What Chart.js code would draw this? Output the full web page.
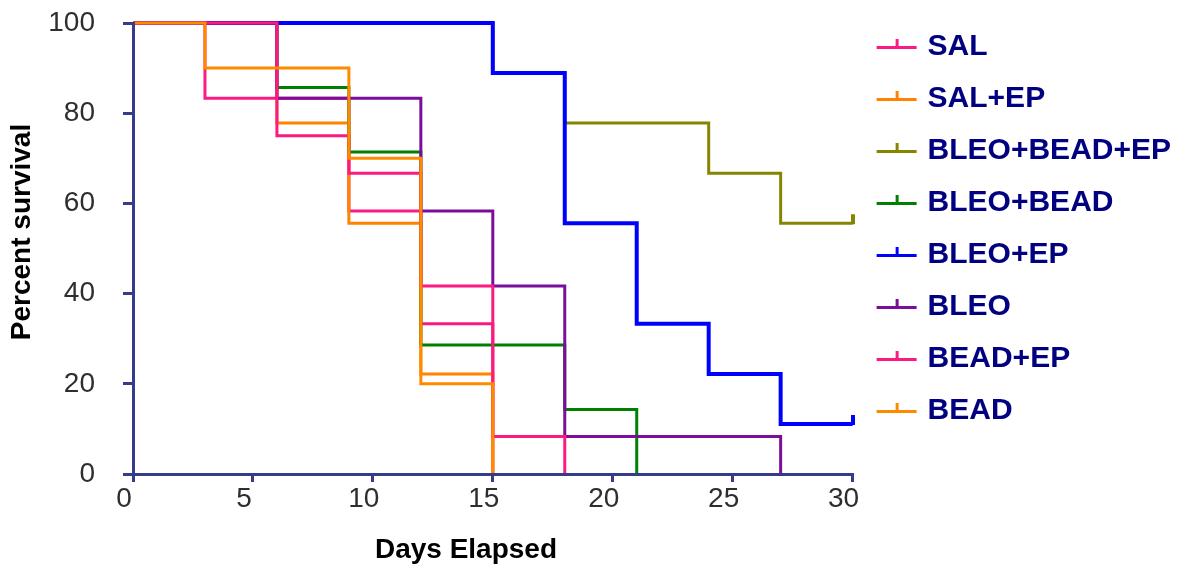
<!DOCTYPE html>
<html>
<head>
<meta charset="utf-8">
<title>Percent survival</title>
<script src="https://cdn.jsdelivr.net/npm/chart.js@4.4.1/dist/chart.umd.min.js"></script>
<style>
  html, body { margin: 0; padding: 0; background: #ffffff; }
  #wrap { width: 1184px; height: 567px; }
</style>
</head>
<body>
<div id="wrap"><canvas id="km" width="1184" height="567"></canvas></div>
<script>
// Observation days (deaths are recorded on a 3-day schedule)
const days = [0, 3, 6, 9, 12, 15, 18, 21, 24, 27, 30];

// Kaplan-Meier survival (%) per group, one value per observation day;
// a shorter list means the curve ends at its last death.
const survSAL        = [100, 83.3, 83.3, 58.3, 33.3, 0];
const survSALEP      = [100, 100, 77.8, 55.6, 22.2, 0];
const survBLEOBEADEP = [100, 100, 100, 100, 100, 88.9, 77.8, 77.8, 66.7, 55.6, 55.6];
const survBLEOBEAD   = [100, 100, 85.7, 71.4, 28.6, 28.6, 14.3, 0];
const survBLEOEP     = [100, 100, 100, 100, 100, 88.9, 55.6, 33.3, 22.2, 11.1, 11.1];
const survBLEO       = [100, 100, 83.3, 83.3, 58.3, 41.7, 8.3, 8.3, 8.3, 0];
const survBEADEP     = [100, 100, 75, 66.7, 41.7, 8.3, 0];
const survBEAD       = [100, 90, 90, 70, 20, 0];

const groupNames  = ['SAL', 'SAL+EP', 'BLEO+BEAD+EP', 'BLEO+BEAD', 'BLEO+EP', 'BLEO', 'BEAD+EP', 'BEAD'];
const groupSeries = [survSAL, survSALEP, survBLEOBEADEP, survBLEOBEAD, survBLEOEP, survBLEO, survBEADEP, survBEAD];
const groupColors = ['#fa1a85', '#ff8200', '#858500', '#008000', '#0000ff', '#7a0d99', '#fa1a80', '#ff8a00'];
const groupWidths = [3, 3, 3, 3, 4, 3, 3, 3];

// Axis tick values
const xTickValues = [0, 5, 10, 15, 20, 25, 30];
const yTickValues = [0, 20, 40, 60, 80, 100];

const AXIS = '#363c88';
const FONT = '"Liberation Sans", Arial, Helvetica, sans-serif';

// Legend symbol: short line with a small censor tick above its middle
function legendMark(color) {
  const c = document.createElement('canvas');
  c.width = 48; c.height = 20;
  const g = c.getContext('2d');
  g.fillStyle = color;
  g.fillRect(7, 9, 40, 3);
  g.fillRect(26, 2, 3, 8);
  return c;
}
// Censor tick drawn upward from a curve's last point
function censorMark(color) {
  const c = document.createElement('canvas');
  c.width = 4; c.height = 20;
  const g = c.getContext('2d');
  g.fillStyle = color;
  g.fillRect(0, 1, 4, 10);
  return c;
}

const legendMarks = groupColors.map(legendMark);

const datasets = groupNames.map((name, i) => {
  const vals = groupSeries[i];
  return {
    label: name,
    data: vals.map((v, k) => ({ x: days[k], y: v })),
    borderColor: groupColors[i],
    backgroundColor: groupColors[i],
    borderWidth: groupWidths[i],
    borderJoinStyle: 'miter',
    borderCapStyle: 'butt',
    stepped: 'before',
    fill: false,
    // keep the full stroke of curves running along the 100 % edge
    clip: 6,
    pointStyle: censorMark(groupColors[i]),
    pointRadius: (ctx) => (ctx.raw && ctx.dataIndex === days.length - 1 && ctx.raw.y > 0) ? 5 : 0,
    pointHoverRadius: 0,
    // lower order is painted last, so later groups sit on top
    order: groupNames.length - i
  };
});

// Axis titles placed relative to the plot area
const axisCaptions = {
  id: 'axisCaptions',
  afterDraw(chart) {
    const { ctx, chartArea } = chart;
    ctx.save();
    ctx.fillStyle = '#000000';
    ctx.font = 'bold 28px ' + FONT;
    ctx.textAlign = 'center';
    ctx.textBaseline = 'middle';
    ctx.fillText('Days Elapsed', chartArea.left + 333, chartArea.bottom + 76);
    ctx.translate(chartArea.left - 111, chartArea.top + 209);
    ctx.rotate(-Math.PI / 2);
    ctx.fillText('Percent survival', 0, 0);
    ctx.restore();
  }
};

new Chart(document.getElementById('km'), {
  type: 'line',
  data: { datasets },
  plugins: [axisCaptions],
  options: {
    responsive: false,
    animation: false,
    events: [],
    layout: { padding: { top: 10, left: 0, right: 3, bottom: 0 } },
    scales: {
      x: {
        type: 'linear',
        min: 0, max: 30,
        afterBuildTicks: (s) => { s.ticks = xTickValues.map(v => ({ value: v })); },
        afterFit: (s) => { s.height = 93; s.paddingLeft = 0; s.paddingRight = 0; },
        grid: { display: true, drawOnChartArea: false, drawTicks: true, tickLength: 8, color: AXIS, lineWidth: 3, z: 1 },
        border: { display: true, color: AXIS, width: 3, z: 1 },
        ticks: { color: '#2e2e2e', font: { family: FONT, size: 28 }, padding: 0, labelOffset: -9, maxRotation: 0 }
      },
      y: {
        type: 'linear',
        min: 0, max: 100,
        afterBuildTicks: (s) => { s.ticks = yTickValues.map(v => ({ value: v })); },
        afterFit: (s) => { s.width = 133; s.paddingTop = 23; s.paddingBottom = 0; },
        grid: { display: true, drawOnChartArea: false, drawTicks: true, tickLength: 10, color: AXIS, lineWidth: 3, z: 1 },
        border: { display: true, color: AXIS, width: 3, z: 1 },
        ticks: { color: '#2e2e2e', font: { family: FONT, size: 28 }, padding: 28 }
      }
    },
    plugins: {
      tooltip: { enabled: false },
      legend: {
        position: 'right',
        align: 'start',
        maxWidth: 331,
        labels: {
          usePointStyle: true,
          pointStyleWidth: 38,
          padding: 22,
          color: '#000080',
          font: { family: FONT, size: 30, weight: 'bold' },
          generateLabels(chart) {
            const items = Chart.defaults.plugins.legend.labels.generateLabels(chart);
            items.forEach(it => { it.pointStyle = legendMarks[it.datasetIndex]; });
            return items.sort((a, b) => a.datasetIndex - b.datasetIndex);
          }
        }
      }
    }
  }
});
</script>
</body>
</html>
